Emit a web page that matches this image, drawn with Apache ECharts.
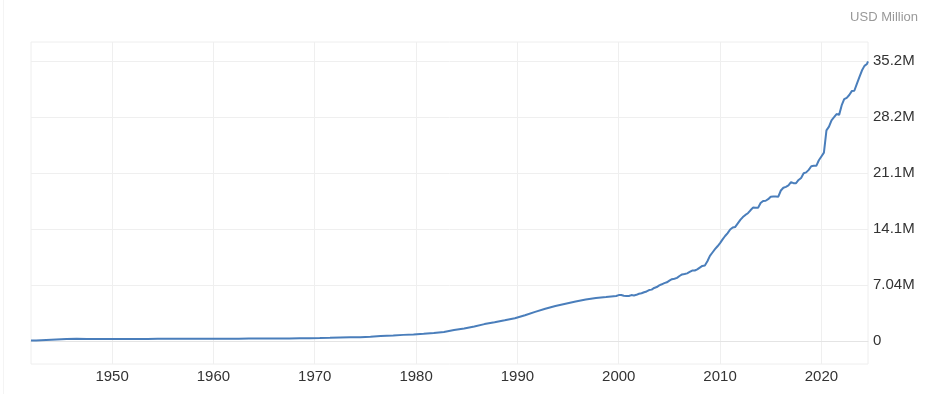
<!DOCTYPE html>
<html>
<head>
<meta charset="utf-8">
<script src="https://cdn.jsdelivr.net/npm/echarts@6/dist/echarts.min.js"></script>
<style>
  html, body { margin: 0; padding: 0; background: #fff; }
  #chart { width: 934px; height: 394px; }
</style>
</head>
<body>
<div id="chart"></div>
<script>
// Period (decimal year) and government debt (USD million)
const periods = [
  1942.0, 1942.5, 1943.5, 1944.5, 1945.5, 1946.5, 1947.5, 1948.5, 1949.5,
  1950.5, 1951.5, 1952.5, 1953.5, 1954.5, 1955.5, 1956.5, 1957.5, 1958.5, 1959.5,
  1960.5, 1961.5, 1962.5, 1963.5, 1964.5, 1965.5, 1966.5, 1967.5, 1968.5, 1969.5,
  1970.5, 1971.5, 1972.5, 1973.5, 1974.5, 1975.5, 1976.5, 1977.75, 1978.75, 1979.75,
  1980.75, 1981.75, 1982.75, 1983.75, 1984.75, 1985.75, 1986.75, 1987.75, 1988.75, 1989.75,
  1990.75, 1991.75, 1992.75, 1993.75, 1994.75, 1995.75, 1996.75, 1997.75, 1998.75, 1999.75,
  2000.0, 2000.25, 2000.5, 2000.75, 2001.0, 2001.25, 2001.5, 2001.75,
  2002.0, 2002.25, 2002.5, 2002.75, 2003.0, 2003.25, 2003.5, 2003.75,
  2004.0, 2004.25, 2004.5, 2004.75, 2005.0, 2005.25, 2005.5, 2005.75,
  2006.0, 2006.25, 2006.5, 2006.75, 2007.0, 2007.25, 2007.5, 2007.75,
  2008.0, 2008.25, 2008.5, 2008.75, 2009.0, 2009.25, 2009.5, 2009.75,
  2010.0, 2010.25, 2010.5, 2010.75, 2011.0, 2011.25, 2011.5, 2011.75,
  2012.0, 2012.25, 2012.5, 2012.75, 2013.0, 2013.25, 2013.5, 2013.75,
  2014.0, 2014.25, 2014.5, 2014.75, 2015.0, 2015.25, 2015.5, 2015.75,
  2016.0, 2016.25, 2016.5, 2016.75, 2017.0, 2017.25, 2017.5, 2017.75,
  2018.0, 2018.25, 2018.5, 2018.75, 2019.0, 2019.25, 2019.5, 2019.75,
  2020.0, 2020.25, 2020.5, 2020.75, 2021.0, 2021.25, 2021.5, 2021.75,
  2022.0, 2022.25, 2022.5, 2022.75, 2023.0, 2023.25, 2023.5, 2023.75,
  2024.0, 2024.25, 2024.5, 2024.6
];
const debt = [
  60000, 72422, 136696, 201003, 258682, 269422, 258286, 252292, 252770,
  257357, 255222, 259105, 266071, 271260, 274374, 272751, 270527, 276343, 284706,
  286331, 288971, 298201, 305860, 311713, 317274, 319907, 326221, 347578, 353720,
  370919, 398130, 427260, 458142, 475060, 533189, 620433, 698840, 771544, 826519,
  907701, 997855, 1142034, 1377210, 1572266, 1823103, 2125302, 2350276, 2602337, 2857430,
  3233313, 3665303, 4064621, 4411489, 4692750, 4973983, 5224811, 5413146, 5526193, 5656271,
  5776091, 5773391, 5685938, 5674178, 5662216, 5773740, 5726815, 5807463,
  5943439, 6006032, 6126469, 6228236, 6405707, 6460776, 6670121, 6783231,
  6997964, 7131068, 7274335, 7379053, 7596144, 7776939, 7836496, 7932710,
  8170424, 8371156, 8420042, 8506974, 8680224, 8849665, 8867675, 9007653,
  9229172, 9437594, 9492006, 10024725, 10699805, 11126941, 11545275, 11909829,
  12311350, 12773123, 13201790, 13561623, 14025215, 14270167, 14343087, 14790340,
  15222940, 15582079, 15855530, 16066241, 16432730, 16771379, 16738184, 16738184,
  17351971, 17601227, 17632606, 17824071, 18141444, 18152056, 18151998, 18150618,
  18922179, 19264939, 19381591, 19573445, 19976827, 19846420, 19844554, 20244900,
  20492874, 21089643, 21195070, 21516058, 21974096, 22027880, 22023283, 22719402,
  23201380, 23686859, 26477239, 26945391, 27747798, 28132570, 28529436, 28428919,
  29617215, 30400960, 30568582, 30928912, 31419689, 31458438, 32332274, 33167334,
  34001494, 34586533, 34831634, 35150000
];
const yearTicks = [1950, 1960, 1970, 1980, 1990, 2000, 2010, 2020];
const valueTicks = [0, 7040000, 14080000, 21120000, 28160000, 35200000];
const unitLabel = 'USD Million';

const seriesData = periods.map((p, i) => [p, debt[i]]);
const FONT = 'Arial, "Liberation Sans", sans-serif';

const chart = echarts.init(document.getElementById('chart'), null, { renderer: 'canvas' });
chart.setOption({
  animation: false,
  backgroundColor: '#fff',
  title: {
    text: unitLabel,
    right: 16,
    top: 11,
    padding: 0,
    textStyle: { fontSize: 13, fontWeight: 'normal', color: '#999', fontFamily: FONT }
  },
  graphic: [{
    type: 'rect',
    shape: { x: 3, y: 0, width: 1, height: 394 },
    style: { fill: '#f4f4f4' },
    silent: true
  }],
  grid: {
    left: 31, right: 66, top: 42, bottom: 30,
    show: true, borderColor: '#eee', borderWidth: 1, backgroundColor: 'transparent'
  },
  xAxis: {
    type: 'value',
    min: 1942,
    max: 2024.6,
    axisLine: { show: true, lineStyle: { color: '#e4e4e4', width: 1 } },
    axisTick: { show: false, customValues: yearTicks },
    axisLabel: {
      customValues: yearTicks,
      margin: 5,
      fontSize: 15,
      color: '#333',
      fontFamily: FONT,
      formatter: v => String(Math.round(v))
    },
    splitLine: { show: true, lineStyle: { color: '#efefef', width: 1 } }
  },
  yAxis: {
    type: 'value',
    position: 'right',
    min: -2890000,
    max: 37590000,
    axisLine: { show: false },
    axisTick: { show: false, customValues: valueTicks },
    axisLabel: {
      customValues: valueTicks,
      margin: 5,
      fontSize: 15,
      color: '#333',
      fontFamily: FONT,
      formatter: v => v === 0 ? '0' : (v / 1e6).toPrecision(3) + 'M'
    },
    splitLine: { show: true, lineStyle: { color: '#efefef', width: 1 } }
  },
  series: [{
    type: 'line',
    data: seriesData,
    showSymbol: false,
    symbol: 'none',
    lineStyle: { color: '#4a7ebb', width: 2 },
    itemStyle: { color: '#4a7ebb' }
  }]
});
</script>
</body>
</html>
